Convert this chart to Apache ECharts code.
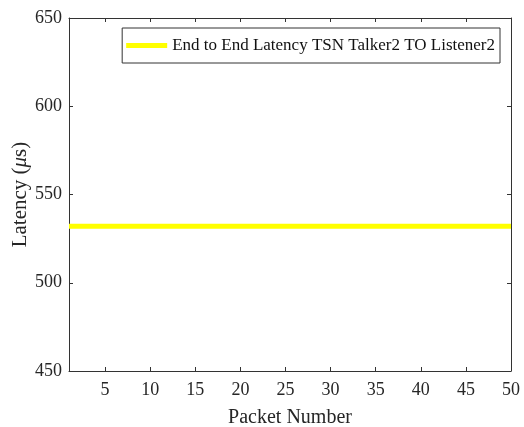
<!DOCTYPE html>
<html>
<head>
<meta charset="utf-8">
<script src="https://cdn.jsdelivr.net/npm/echarts@6/dist/echarts.min.js"></script>
<style>html,body{margin:0;padding:0;background:#fff}#c{width:524px;height:427px}</style>
</head>
<body>
<div id="c"></div>
<script>
const packets = [1,2,3,4,5,6,7,8,9,10,11,12,13,14,15,16,17,18,19,20,21,22,23,24,25,26,27,28,29,30,31,32,33,34,35,36,37,38,39,40,41,42,43,44,45,46,47,48,49,50];
const latency = [532,532,532,532,532,532,532,532,532,532,532,532,532,532,532,532,532,532,532,532,532,532,532,532,532,532,532,532,532,532,532,532,532,532,532,532,532,532,532,532,532,532,532,532,532,532,532,532,532,532];
const xTicks = [5,10,15,20,25,30,35,40,45,50];
const yTicks = [450,500,550,600,650];
const seriesName = 'End to End Latency TSN Talker2 TO Listener2';

const font = '"Liberation Serif", "Times New Roman", serif';
const axisColor = '#333333';
const textColor = '#262626';
const chart = echarts.init(document.getElementById('c'));
const pts = packets.map((p, i) => [p, latency[i]]);

chart.setOption({
  animation: false,
  backgroundColor: '#fff',
  textStyle: { fontFamily: font },
  grid: { left: 69, right: 13, top: 18, bottom: 56, containLabel: false, outerBoundsMode: 'none' },
  legend: {
    show: true,
    data: [{ name: seriesName, icon: 'rect' }],
    right: 24, top: 28,
    itemWidth: 41, itemHeight: 5, itemGap: 4,
    padding: [9, 5, 9, 4],
    borderColor: axisColor, borderWidth: 1, backgroundColor: '#fff',
    textStyle: { fontFamily: font, fontSize: 17, color: '#111' }
  },
  xAxis: [{
    type: 'value', min: 1, max: 50, position: 'bottom',
    name: 'Packet Number', nameLocation: 'middle', nameGap: 37, nameMoveOverlap: false,
    nameTextStyle: { fontFamily: font, fontSize: 20, color: textColor },
    axisLine: { show: true, lineStyle: { color: axisColor, width: 1 } },
    axisTick: { show: true, inside: true, length: 4, customValues: xTicks, lineStyle: { color: axisColor } },
    axisLabel: { show: true, customValues: xTicks, margin: 10, fontFamily: font, fontSize: 18, color: textColor },
    splitLine: { show: false }
  }, {
    type: 'value', min: 1, max: 50, position: 'top',
    axisLine: { show: true, lineStyle: { color: axisColor, width: 1 } },
    axisTick: { show: true, inside: true, length: 4, customValues: xTicks, lineStyle: { color: axisColor } },
    axisLabel: { show: false },
    splitLine: { show: false }
  }],
  yAxis: [{
    type: 'value', min: 450, max: 650, interval: 50, position: 'left',
    name: 'Latency ({i|μ}s)', nameLocation: 'middle', nameGap: 38, nameRotate: 90, nameMoveOverlap: false,
    nameTextStyle: { fontFamily: font, fontSize: 21, color: textColor,
      rich: { i: { fontFamily: font, fontStyle: 'italic', fontSize: 21, color: textColor } } },
    axisLine: { show: true, lineStyle: { color: axisColor, width: 1 } },
    axisTick: { show: true, inside: true, length: 4, lineStyle: { color: axisColor } },
    axisLabel: { show: true, margin: 7, fontFamily: font, fontSize: 18, color: textColor },
    splitLine: { show: false }
  }, {
    type: 'value', min: 450, max: 650, interval: 50, position: 'right',
    axisLine: { show: true, lineStyle: { color: axisColor, width: 1 } },
    axisTick: { show: true, inside: true, length: 4, lineStyle: { color: axisColor } },
    axisLabel: { show: false },
    splitLine: { show: false }
  }],
  series: [{
    name: seriesName, type: 'line', data: pts,
    xAxisIndex: 0, yAxisIndex: 0,
    showSymbol: false, symbol: 'none',
    lineStyle: { color: '#FFFF00', width: 5 },
    itemStyle: { color: '#FFFF00' }
  }]
});
</script>
</body>
</html>
